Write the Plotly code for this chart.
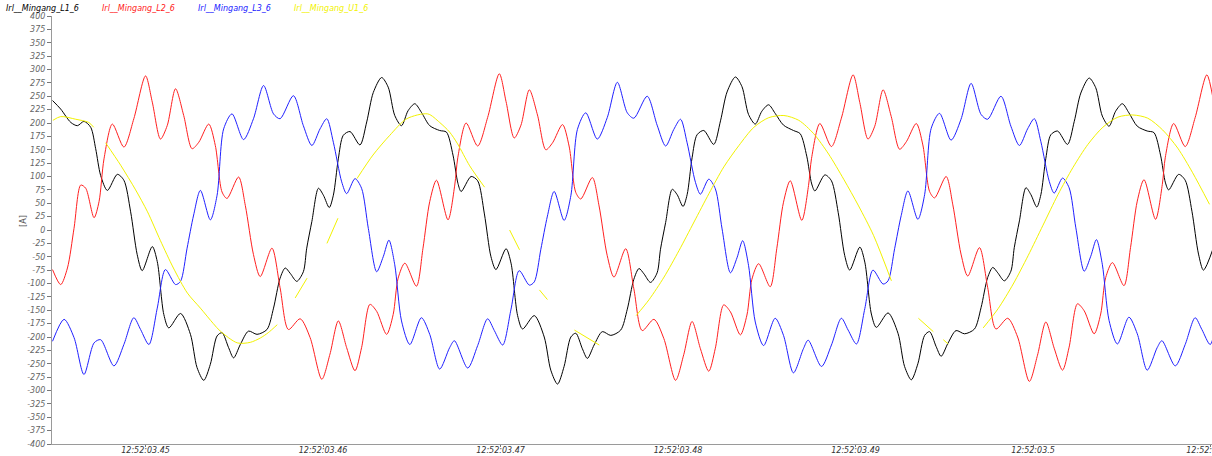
import plotly.graph_objects as go

# ---------------- data (time in ms relative to 12:52:03.450, current in A) ----------------
black_t = [-5.24,-4.78,-4.21,-3.84,-3.47,-3.09,-2.81,-2.53,
 -2.15,-1.59,-1.22,-0.84,-0.47,-0.19,0.38,0.66,1.03,1.31,1.97,2.53,2.90,3.28,3.65,4.03,4.31,4.68,4.96,5.34,5.80,6.28,6.84,7.21,7.58,7.87,8.15,8.52,8.89,9.08,9.37,9.74,10.02,10.35,10.58,10.86,11.14,11.52,12.08,12.46,12.83,13.30,13.67,14.04,14.42,14.79,15.17,15.54,16.01,16.57,16.95,17.32,17.60,
 17.78,18.34,18.71,19.09,19.46,19.74,20.31,20.59,20.96,21.24,21.90,22.46,22.83,23.21,23.58,23.96,24.24,24.61,24.89,25.27,25.73,26.21,26.77,27.14,27.51,27.80,28.08,28.45,28.82,29.01,29.30,29.67,29.95,30.28,30.51,30.79,31.07,31.45,32.01,32.39,32.76,33.23,33.60,33.97,34.35,34.72,35.10,35.47,35.94,36.50,36.88,37.25,37.53,
 37.71,38.27,38.64,39.02,39.39,39.67,40.24,40.52,40.89,41.17,41.83,42.39,42.76,43.14,43.51,43.89,44.17,44.54,44.82,45.20,45.66,46.14,46.70,47.07,47.44,47.73,48.01,48.38,48.75,48.94,49.23,49.60,49.88,50.21,50.44,50.72,51.00,51.38,51.94,52.32,52.69,53.16,53.53,53.90,54.28,54.65,55.03,55.40,55.87,56.43,56.81,57.18,57.46,
 57.64,58.20,58.57,58.95,59.32,59.60,60.17]
black_v = [242,226,201,195,203,192,152,102,
 74,104,93,34,-46,-76,-31,-59,-158,-183,-156,-195,-257,-281,-251,-198,-192,-220,-239,-214,-189,-195,-186,-146,-90,-71,-81,-96,-78,-34,16,78,65,42,65,133,177,184,159,202,257,285,267,214,195,223,236,220,195,186,183,140,87,
 72,100,92,30,-50,-74,-35,-62,-160,-185,-160,-200,-262,-288,-255,-200,-193,-222,-240,-215,-190,-197,-187,-148,-92,-72,-82,-98,-80,-36,14,76,66,44,66,135,178,186,160,204,258,286,268,216,198,222,234,218,196,186,180,138,86,
 73,103,92,33,-48,-75,-32,-60,-157,-182,-155,-193,-255,-280,-250,-197,-190,-218,-236,-212,-188,-194,-185,-145,-89,-70,-80,-95,-77,-33,17,79,66,43,66,134,178,185,160,203,256,284,266,213,194,222,236,219,194,185,182,140,88,
 75,104,93,35,-45,-75,-32]

red_t = [-5.24,-4.78,-4.40,-4.03,-3.65,-3.37,-2.90,-2.62,
 -2.34,-1.87,-1.22,-0.66,0.00,0.38,0.84,1.22,1.69,2.15,2.62,3.00,3.56,3.93,4.31,4.59,5.24,5.62,6.08,6.46,7.12,7.58,8.05,8.71,9.27,9.93,10.39,10.86,11.33,11.80,12.17,12.64,13.02,13.58,13.95,14.23,14.61,15.26,15.63,16.01,16.39,17.04,17.42,
 17.59,18.06,18.71,19.27,19.93,20.31,20.77,21.15,21.62,22.08,22.55,22.93,23.49,23.86,24.24,24.52,25.17,25.55,26.01,26.39,27.05,27.51,27.98,28.64,29.20,29.86,30.32,30.79,31.26,31.73,32.10,32.57,32.95,33.51,33.88,34.16,34.54,35.19,35.56,35.94,36.32,36.97,37.35,
 37.52,37.99,38.64,39.20,39.86,40.24,40.70,41.08,41.55,42.01,42.48,42.86,43.42,43.79,44.17,44.45,45.10,45.48,45.94,46.32,46.98,47.44,47.91,48.57,49.13,49.79,50.25,50.72,51.19,51.66,52.03,52.50,52.88,53.44,53.81,54.09,54.47,55.12,55.49,55.87,56.25,56.90,57.28,
 57.45,57.92,58.57,59.13,59.79,60.17]
red_v = [-74,-102,-71,3,84,78,23,53,
 133,198,155,208,288,239,170,195,264,214,152,164,198,158,71,59,99,46,-46,-87,-34,-108,-186,-166,-201,-279,-232,-170,-220,-263,-220,-139,-152,-195,-158,-90,-62,-105,-34,53,93,19,84,
 135,200,157,210,292,240,172,196,262,215,150,163,197,157,70,58,98,45,-48,-88,-35,-110,-188,-167,-203,-281,-233,-171,-222,-264,-221,-140,-153,-196,-159,-92,-63,-106,-35,52,92,18,83,
 134,199,156,209,290,238,170,194,262,212,151,165,199,159,72,60,100,47,-45,-86,-33,-107,-185,-165,-200,-283,-234,-172,-221,-262,-219,-138,-151,-194,-157,-89,-61,-104,-33,54,94,20,85,
 136,199,156,210,290,240]

blue_t = [-5.24,-4.59,-4.03,-3.47,-2.90,
 -2.53,-1.78,-1.22,-0.66,-0.28,0.19,0.66,1.12,1.69,1.97,2.34,2.71,3.09,3.65,4.03,4.40,4.87,5.52,6.08,6.65,7.21,7.58,8.33,8.89,9.37,9.83,10.21,10.58,11.05,11.33,11.80,12.17,12.55,13.02,13.39,13.71,14.04,14.42,14.89,15.54,16.01,16.57,17.13,
 17.40,18.15,18.71,19.27,19.65,20.12,20.59,21.05,21.62,21.90,22.27,22.64,23.02,23.58,23.96,24.33,24.80,25.45,26.01,26.58,27.14,27.51,28.26,28.82,29.30,29.76,30.14,30.51,30.98,31.26,31.73,32.10,32.48,32.95,33.32,33.64,33.97,34.35,34.82,35.47,35.94,36.50,37.06,
 37.33,38.08,38.64,39.20,39.58,40.05,40.52,40.98,41.55,41.83,42.20,42.57,42.95,43.51,43.89,44.26,44.73,45.38,45.94,46.51,47.07,47.44,48.19,48.75,49.23,49.69,50.07,50.44,50.91,51.19,51.66,52.03,52.41,52.88,53.25,53.57,53.90,54.28,54.75,55.40,55.87,56.43,56.99,
 57.26,58.01,58.57,59.13,59.51,59.98,60.45]
blue_v = [-208,-167,-201,-270,-211,
 -205,-254,-214,-164,-186,-214,-146,-74,-102,-96,-34,28,74,19,65,189,217,169,208,270,217,208,251,195,158,189,208,164,90,68,96,78,3,-78,-50,-19,-65,-170,-214,-164,-195,-260,-220,
 -207,-258,-216,-166,-188,-215,-148,-76,-103,-97,-36,26,72,18,64,188,219,170,210,276,219,209,250,196,157,188,207,163,89,67,95,77,2,-80,-52,-20,-66,-172,-216,-165,-197,-267,-222,
 -206,-255,-215,-165,-187,-213,-147,-75,-101,-95,-35,27,73,20,66,190,218,168,207,274,216,207,250,194,158,189,208,165,91,69,97,79,4,-77,-49,-18,-64,-169,-213,-163,-194,-262,-220,
 -207,-254,-214,-164,-186,-214,-146]

yellow_t = [-5.22,-4.78,-3.93,-3.20,-2.92,None,
 -2.25,-1.40,-0.56,0.11,0.84,1.57,2.36,3.09,3.82,4.21,5.17,5.90,6.46,6.91,7.42,None,
 8.43,9.10,None,10.22,10.84,None,
 11.91,12.81,13.76,14.72,15.90,16.57,17.13,17.58,18.26,19.10,None,
 20.51,21.07,None,22.19,22.64,None,24.16,25.56,None,
 27.64,28.37,29.21,30.06,30.90,31.74,32.58,33.43,34.27,35.11,35.96,36.80,37.64,38.48,39.33,40.17,41.01,42.02,None,
 43.54,44.38,None,44.94,45.22,None,
 47.19,48.03,48.88,49.72,50.56,51.40,52.25,53.09,53.93,54.78,55.62,56.46,57.30,58.15,58.99,59.94]
yellow_v = [205,212,207,201,192,None,
 163,121,75,34,-20,-71,-118,-146,-175,-189,-211,-210,-202,-192,-177,None,
 -127,-90,None,-25,22,None,
 96,140,177,208,217,201,183,161,120,80,None,
 0,-37,None,-112,-130,None,-187,-215,None,
 -160,-130,-88,-38,15,68,118,158,192,210,214,205,180,142,95,45,-10,-95,None,
 -165,-190,None,-205,-213,None,
 -183,-147,-101,-48,9,66,117,160,192,211,215,209,187,153,107,48]

series_names = ["Irl__Mingang_L1_6", "Irl__Mingang_L2_6", "Irl__Mingang_L3_6", "Irl__Mingang_U1_6"]
series_colors = ["#000000", "#ff2020", "#2020ff", "#f2f200"]

x_tick_vals = [0, 10, 20, 30, 40, 50, 60]
x_tick_text = ["12:52:03.45", "12:52:03.46", "12:52:03.47", "12:52:03.48",
               "12:52:03.49", "12:52:03.5", "12:52:03.51"]
x_tick_date = "15.01.14"
y_tick_vals = list(range(-400, 401, 25))

FONT = "DejaVu Sans, Verdana, sans-serif"

# ---------------- figure ----------------
fig = go.Figure()
for (tx, vy), name, col in zip([(black_t, black_v), (red_t, red_v), (blue_t, blue_v), (yellow_t, yellow_v)],
                               series_names, series_colors):
    fig.add_trace(go.Scatter(x=tx, y=vy, mode="lines", name=name,
                             line=dict(color=col, width=1, shape="spline", smoothing=0.8),
                             connectgaps=False, showlegend=False))

# legend as coloured text row
leg_x = [4, 100, 196, 292]
for name, col, px in zip(series_names, series_colors, leg_x):
    fig.add_annotation(x=(px - 52) / 1160, y=1.0 + 8 / 428, xref="paper", yref="paper",
                       text=name, showarrow=False, xanchor="left", yanchor="middle",
                       font=dict(family=FONT, size=8, color=col, style="italic"))

fig.add_annotation(x=-35 / 1160, y=0.52, xref="paper", yref="paper", text="[A]",
                   textangle=-90, showarrow=False,
                   font=dict(family=FONT, size=8, color="#555"))

fig.update_layout(
    width=1212, height=456,
    margin=dict(l=52, r=0, t=16, b=12, autoexpand=False),
    paper_bgcolor="white", plot_bgcolor="white",
    xaxis=dict(range=[-5.27, 60.08], showgrid=False, zeroline=False,
               showline=True, linecolor="#9a9a9a", linewidth=1,
               ticks="outside", ticklen=2, tickcolor="#777",
               tickvals=x_tick_vals,
               ticktext=[t + "<br>" + x_tick_date for t in x_tick_text],
               ticklabelstandoff=-4, ticklabeloverflow="allow",
               tickfont=dict(family=FONT, size=8, color="#333", style="italic"),
               automargin=False),
    yaxis=dict(range=[-400, 400], showgrid=False, zeroline=False,
               showline=True, linecolor="#9a9a9a", linewidth=1,
               ticks="outside", ticklen=4, tickcolor="#777",
               tickvals=y_tick_vals, ticktext=[str(v) for v in y_tick_vals],
               tickfont=dict(family=FONT, size=8, color="#666", style="italic"),
               automargin=False),
)

fig.write_html("out.html", config={"displayModeBar": False},
               post_script="document.body.style.margin='0';")
